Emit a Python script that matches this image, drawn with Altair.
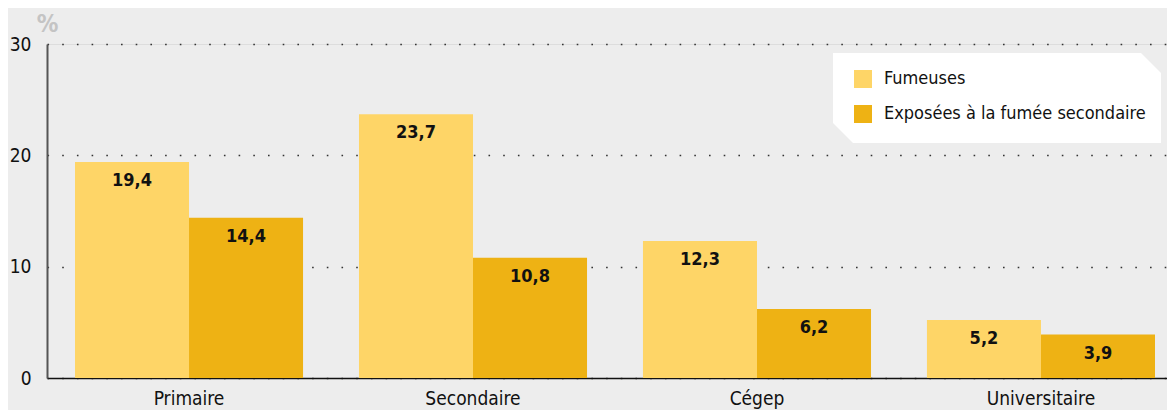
import altair as alt
import pandas as pd

categories = ["Primaire", "Secondaire", "Cégep", "Universitaire"]
series = ["Fumeuses", "Exposées à la fumée secondaire"]
fumeuses = [19.4, 23.7, 12.3, 5.2]
exposees = [14.4, 10.8, 6.2, 3.9]
colors = ["#FED567", "#EEB214"]

rows = []
for c, a, b in zip(categories, fumeuses, exposees):
    rows.append({"cat": c, "serie": series[0], "v": a})
    rows.append({"cat": c, "serie": series[1], "v": b})
df = pd.DataFrame(rows)

FONT = "'DejaVu Sans Condensed', 'Roboto Condensed', 'Noto Sans', sans-serif"
BG = "#EDEDED"

x_enc = alt.X("cat:N", sort=categories, title=None,
              scale=alt.Scale(range=[0, 1136], paddingInner=0.197, paddingOuter=0.0986),
              axis=alt.Axis(labelAngle=0, labelFontSize=19, labelFont=FONT, labelColor="#111",
                            labelPadding=11, ticks=False, domainColor="#111", domainWidth=1.6,
                            grid=False))
xo_enc = alt.XOffset("serie:N", sort=series, scale=alt.Scale(paddingInner=0, paddingOuter=0))
y_enc = alt.Y("v:Q", scale=alt.Scale(domain=[0, 30], nice=False),
              axis=alt.Axis(values=[0, 10, 20, 30], title="%", titleAngle=0, titleX=0, titleY=-20,
                            titleAlign="center", titleBaseline="middle", titleFontSize=24,
                            titleFontWeight="bold", titleColor="#C4C4C4", titleFont=FONT,
                            labelFontSize=19, labelFont=FONT, labelColor="#111", labelPadding=16,
                            ticks=False, domainColor="#555", domainWidth=2,
                            grid=True, gridDash=[1.6, 13.1], gridColor="#333", gridWidth=1.6,
                            labelBaseline="middle"))

bars = alt.Chart(df).mark_bar().encode(
    x=x_enc, xOffset=xo_enc, y=y_enc,
    color=alt.Color("serie:N", sort=series, title=None,
                    scale=alt.Scale(domain=series, range=colors),
                    legend=alt.Legend(orient="none", legendX=807, legendY=26,
                                      symbolType="square", symbolSize=324, symbolStrokeWidth=0,
                                      labelFontSize=18, labelFont=FONT, labelColor="#111",
                                      labelOffset=12, rowPadding=17, padding=0, labelLimit=400)),
)

labels = alt.Chart(df).transform_calculate(
    lab="replace(format(datum.v, '.1f'), '.', ',')"
).mark_text(baseline="middle", dy=19, fontSize=18, fontWeight="bold", font=FONT, color="#111").encode(
    x=alt.X("cat:N", sort=categories), xOffset=alt.XOffset("serie:N", sort=series), y="v:Q",
    text="lab:N")

# white legend box with cut corners (decoration)
box_path = "M-1,-0.2744 L0.878,-0.2744 L1,-0.1524 L1,0.2744 L-0.878,0.2744 L-1,0.1524 Z"
box = alt.Chart(pd.DataFrame({"a": [0]})).mark_point(
    shape=box_path, filled=True, color="white", opacity=1, strokeWidth=0
).encode(x=alt.value(950), y=alt.value(54), size=alt.value(328 * 328))

chart = alt.layer(bars, labels, box).properties(
    width=1120, height=334, background=BG,
    autosize=alt.AutoSizeParams(type="none"),
    padding={"left": 39, "top": 36, "right": 0, "bottom": 32},
).configure_view(stroke=None).configure(font=FONT)

chart.save("out.html", embed_options={"renderer": "svg", "actions": False})
